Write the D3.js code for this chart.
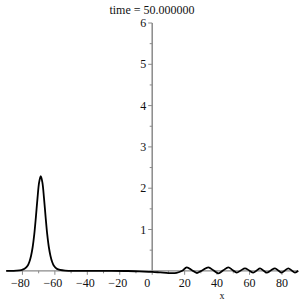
<!DOCTYPE html>
<html><head><meta charset="utf-8">
<script src="https://cdn.jsdelivr.net/npm/d3@7"></script>
<style>body{margin:0;background:#fff}svg{display:block}</style>
</head><body><svg id="c" width="304" height="304" font-family="'Liberation Serif', 'Times New Roman', Times, 'DejaVu Serif', serif"></svg>
<script>
const title = "time = 50.000000";
const xLabel = "x";
const xTicks = [-80, -60, -40, -20, 0, 20, 40, 60, 80];
const yTicks = [1, 2, 3, 4, 5, 6];
const xs = [-90, -86, -83.7, -80.7, -78.7, -76.7, -75.7, -74.7, -73.7, -72.7, -71.7, -70.7, -69.7, -68.7, -67.7, -66.7, -65.7, -64.7, -63.7, -62.7, -61.7, -60.7, -58.7, -53.7, -40, -25, -15, -8, 0, 5, 10, 15, 18.5, 21.3, 24.5, 27.6, 31, 34.6, 37.7, 40.8, 43.8, 46.9, 49.5, 52.1, 54.6, 57.2, 59.8, 62.3, 64.4, 66.5, 68.5, 70.6, 73.1, 75.7, 77.7, 79.8, 81.8, 83.9, 86, 88, 90];
const us = [0, 0, 0.002, 0.016, 0.047, 0.13, 0.22, 0.36, 0.57, 0.88, 1.30, 1.76, 2.14, 2.29, 2.14, 1.76, 1.30, 0.88, 0.57, 0.36, 0.22, 0.13, 0.047, 0.003, 0, 0, -0.005, -0.015, -0.025, -0.04, -0.055, -0.05, 0.0, 0.085, 0.015, -0.053, 0.015, 0.085, 0.012, -0.06, 0.012, 0.085, 0.02, -0.045, 0.008, 0.06, 0.008, -0.045, 0.008, 0.06, 0.008, -0.045, 0.008, 0.06, 0.008, -0.045, 0.008, 0.06, 0.008, -0.045, 0];

const svg = d3.select("#c");
const x = d3.scaleLinear().domain([-90, 90]).range([6.2, 298.2]);
const y = d3.scaleLinear().domain([0, 6]).range([270.8, 23]);
const axisCol = "#8a8a8a";

// x axis
const gx = svg.append("g").attr("transform", `translate(0,${y(0)})`);
gx.append("line").attr("x1", x(-90)).attr("x2", x(90)).attr("stroke", axisCol).attr("stroke-width", 1.2);
gx.selectAll(".mx").data(d3.range(-80, 81, 10)).join("line")
  .attr("x1", d => x(d)).attr("x2", d => x(d)).attr("y1", 0).attr("y2", d => d % 20 === 0 ? 4 : 2.5)
  .attr("stroke", axisCol).attr("stroke-width", 1);
gx.selectAll("text").data(xTicks).join("text")
  .attr("x", d => d === 0 ? x(0) - 5 : x(d) - (d < 0 ? 2 : 0)).attr("y", 16)
  .attr("text-anchor", "middle").attr("font-size", 12).attr("fill", "#111")
  .text(d => d < 0 ? "\u2212" + Math.abs(d) : d);

// y axis
const gy = svg.append("g").attr("transform", `translate(${x(0)},0)`);
gy.append("line").attr("y1", y(0)).attr("y2", y(6)).attr("stroke", axisCol).attr("stroke-width", 1.5);
gy.selectAll(".ty").data(d3.range(0.5, 6.01, 0.5)).join("line")
  .attr("y1", d => y(d)).attr("y2", d => y(d)).attr("x1", d => Number.isInteger(d) ? -4 : -2.5).attr("x2", 0)
  .attr("stroke", axisCol).attr("stroke-width", 1);
gy.selectAll("text").data(yTicks).join("text")
  .attr("x", -6).attr("y", d => y(d) + 4).attr("text-anchor", "end")
  .attr("font-size", 12).attr("fill", "#111").text(d => d);

// curve
const pts = xs.map((v, i) => [v, us[i]]);
svg.append("path").datum(pts)
  .attr("d", d3.line().x(d => x(d[0])).y(d => y(d[1])).curve(d3.curveCatmullRom.alpha(0.5)))
  .attr("fill", "none").attr("stroke", "#000").attr("stroke-width", 1.8).attr("stroke-linejoin", "round");

// title & label
svg.append("text").attr("x", 152).attr("y", 14).attr("text-anchor", "middle").attr("font-size", 12).attr("fill", "#111").text(title);
svg.append("text").attr("x", 222).attr("y", 299).attr("text-anchor", "middle").attr("font-size", 10).attr("fill", "#111").text(xLabel);
</script></body></html>
